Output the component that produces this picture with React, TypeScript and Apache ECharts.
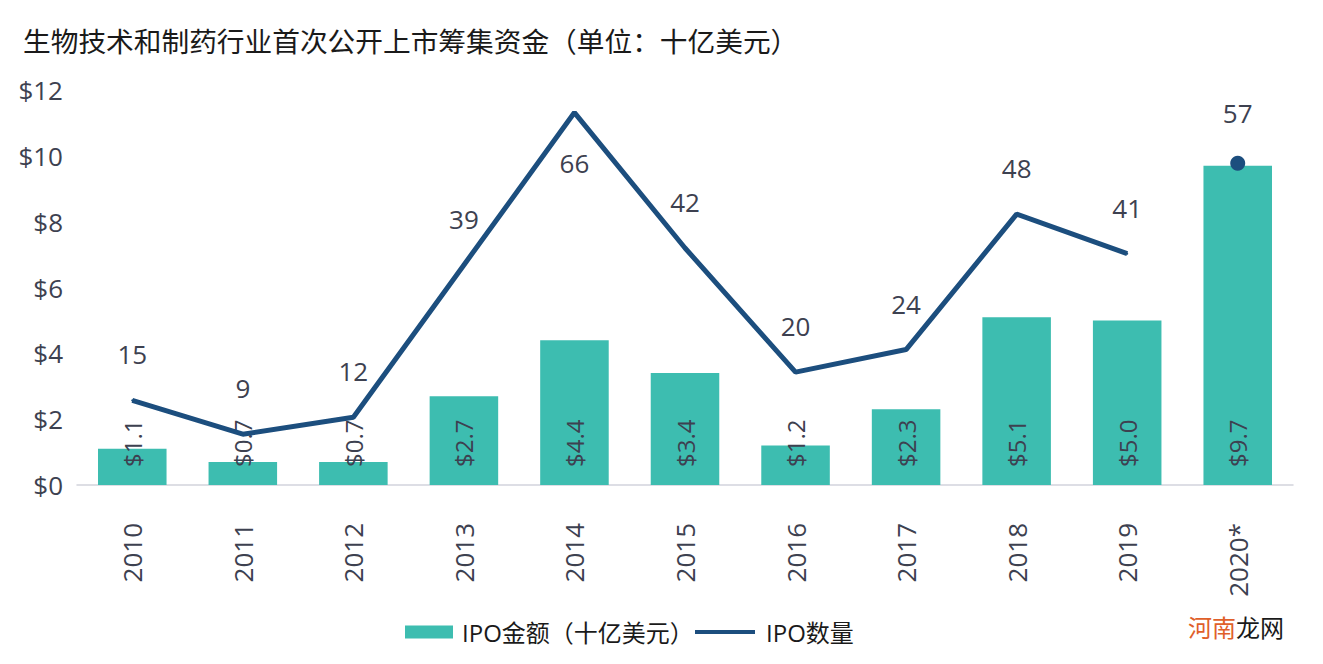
import React, { useEffect, useRef } from "react";
import * as echarts from "echarts";

const years = ["2010", "2011", "2012", "2013", "2014", "2015", "2016", "2017", "2018", "2019", "2020*"];
const ipoAmount = [1.1, 0.7, 0.7, 2.7, 4.4, 3.4, 1.2, 2.3, 5.1, 5.0, 9.7];
const ipoCount: (number | null)[] = [15, 9, 12, 39, 66, 42, 20, 24, 48, 41, null];
const ipoCount2020: (number | null)[] = [null, null, null, null, null, null, null, null, null, null, 57];

const TEAL = "#3dbdb0";
const NAVY = "#1c4e7e";
const TXT = "#3d4150";
const FONT = "'Open Sans', 'Noto Sans CJK SC', sans-serif";

export default function App() {
  const ref = useRef<HTMLDivElement>(null);
  useEffect(() => {
    const chart = echarts.init(ref.current!, null, { renderer: "svg" });
    chart.setOption({
      animation: false,
      backgroundColor: "#ffffff",
      textStyle: { fontFamily: FONT },
      title: {
        text: "生物技术和制药行业首次公开上市筹集资金（单位：十亿美元）",
        left: 18,
        top: 21,
        textStyle: { fontSize: 27.7, fontWeight: "normal", color: "#1a1a1a", fontFamily: "'Noto Sans CJK SC', sans-serif" },
      },
      grid: { left: 77, right: 30, top: 90, bottom: 179 },
      legend: [
        {
          data: [{ name: "IPO金额（十亿美元）", icon: "rect", itemStyle: { color: TEAL } }],
          left: 400,
          top: 615,
          itemWidth: 48,
          itemHeight: 13,
          textStyle: { fontSize: 24, color: "#1a1a1a", fontFamily: FONT, padding: [0, 0, 0, 4] },
        },
        {
          data: [{ name: "IPO数量", icon: "rect", itemStyle: { color: NAVY, opacity: 1 } }],
          left: 690,
          top: 615,
          itemWidth: 60,
          itemHeight: 4,
          textStyle: { fontSize: 24, color: "#1a1a1a", fontFamily: FONT, padding: [0, 0, 0, 6] },
        },
      ],
      xAxis: {
        type: "category",
        data: years,
        axisLine: { lineStyle: { color: "#d2d3dc", width: 1.5 } },
        axisTick: { show: false },
        axisLabel: { rotate: 90, margin: 38, fontSize: 26, color: TXT, fontFamily: FONT },
      },
      yAxis: [
        {
          type: "value",
          min: 0,
          max: 12,
          interval: 2,
          splitLine: { show: false },
          axisLine: { show: false },
          axisTick: { show: false },
          axisLabel: { margin: 14, fontSize: 26, color: TXT, fontFamily: FONT, formatter: (v: number) => "$" + v },
        },
        { type: "value", min: 0, max: 70, show: false },
      ],
      series: [
        {
          name: "IPO金额（十亿美元）",
          type: "bar",
          data: ipoAmount,
          barWidth: "62%",
          itemStyle: { color: TEAL },
          label: {
            show: true,
            position: "insideBottom",
            rotate: 90,
            align: "left",
            verticalAlign: "middle",
            distance: 18,
            fontSize: 24,
            color: TXT,
            fontFamily: FONT,
            formatter: (p: any) => "$" + Number(p.value).toFixed(1),
          },
        },
        {
          name: "IPO数量",
          type: "line",
          yAxisIndex: 1,
          data: ipoCount.map((v, i) =>
            i === 4 ? { value: v, label: { position: "bottom", distance: 36 } } : v
          ),
          showSymbol: true,
          symbol: "circle",
          symbolSize: 2,
          connectNulls: false,
          lineStyle: { color: NAVY, width: 5 },
          itemStyle: { color: NAVY, borderWidth: 0 },
          label: { show: true, position: "top", distance: 32, fontSize: 26, color: TXT, fontFamily: FONT },
        },
        {
          name: "IPO数量",
          type: "scatter",
          yAxisIndex: 1,
          data: ipoCount2020,
          symbol: "circle",
          symbolSize: 15,
          itemStyle: { color: NAVY, opacity: 1 },
          label: { show: true, position: "top", distance: 30, fontSize: 26, color: TXT, fontFamily: FONT },
        },
      ],
      graphic: [
        {
          type: "text",
          left: 1188,
          top: 614,
          style: {
            text: "{a|河南}{b|龙网}",
            rich: {
              a: { fontSize: 24, fill: "#e0602a", fontFamily: "'Noto Sans CJK SC', sans-serif" },
              b: { fontSize: 24, fill: "#1a1a1a", fontFamily: "'Noto Sans CJK SC', sans-serif" },
            },
          },
        },
      ],
    });
    return () => chart.dispose();
  }, []);
  return <div ref={ref} style={{ width: 1323, height: 664, position: "absolute", left: 0, top: 0 }} />;
}
